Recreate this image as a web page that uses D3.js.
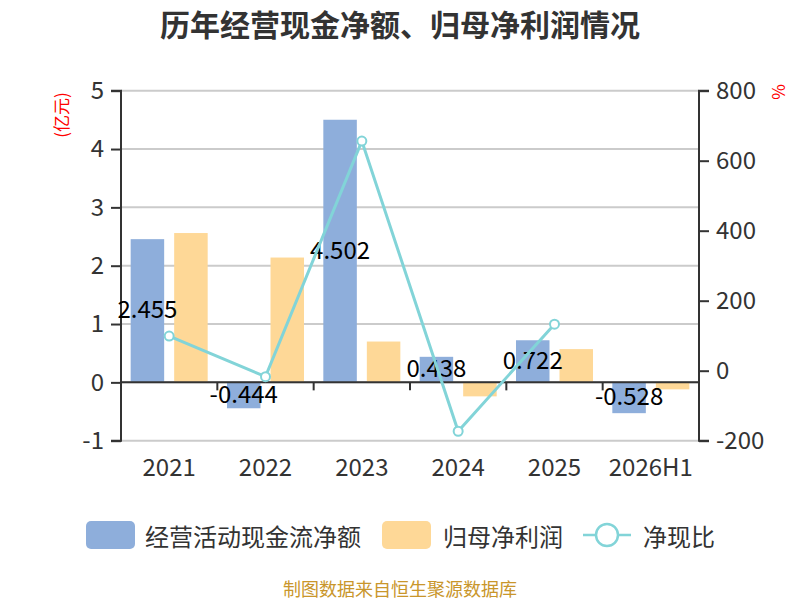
<!DOCTYPE html>
<html>
<head>
<meta charset="utf-8">
<script src="https://cdn.jsdelivr.net/npm/d3@7"></script>
<style>
  html, body { margin: 0; padding: 0; background: #fff; }
  svg { display: block; }
  text { font-family: "Noto Sans CJK SC", "Noto Sans", sans-serif; }
</style>
</head>
<body>
<svg id="chart" width="800" height="600"></svg>
<script>
// ---- data ----
const categories = ["2021", "2022", "2023", "2024", "2025", "2026H1"];
const cashFlow = [2.455, -0.444, 4.502, 0.438, 0.722, -0.528];   // 经营活动现金流净额 (亿元)
const netProfit = [2.56, 2.14, 0.70, -0.24, 0.57, -0.12];         // 归母净利润 (亿元)
const cashRatio = [99, -17, 656, -173, 133, null];                // 净现比 (%)
const leftTicks = [-1, 0, 1, 2, 3, 4, 5];
const rightTicks = [-200, 0, 200, 400, 600, 800];
const seriesNames = ["经营活动现金流净额", "归母净利润", "净现比"];
const titleText = "历年经营现金净额、归母净利润情况";
const footerText = "制图数据来自恒生聚源数据库";

// ---- styles ----
const C_BLUE = "#8eaedb", C_ORANGE = "#fed897", C_LINE = "#82d4d8";
const C_AXIS = "#333", C_GRID = "#cbcbcb", C_TEXT = "#333";

const svg = d3.select("#chart");
const L = 121, R = 699, T = 90.7, B = 440.7;

const x = d3.scaleBand().domain(categories).range([L, R]).padding(0);
const xi = d3.scaleBand().domain(["cf", "np"]).range([0, x.bandwidth()])
  .paddingInner(0.23).paddingOuter(0.222);
const yL = d3.scaleLinear().domain([-1, 5]).range([B, T]);
const yR = d3.scaleLinear().domain([-200, 800]).range([B, T]);

// title
svg.append("text").attr("x", 400).attr("y", 23).attr("text-anchor", "middle")
  .attr("dominant-baseline", "central").attr("font-size", 30).attr("font-weight", "bold")
  .attr("fill", C_TEXT).text(titleText);

// grid
svg.append("g").selectAll("line").data(leftTicks).join("line")
  .attr("x1", L).attr("x2", R).attr("y1", d => yL(d)).attr("y2", d => yL(d))
  .attr("stroke", C_GRID).attr("stroke-width", 2);

// bars
const groups = svg.append("g").selectAll("g").data(categories).join("g")
  .attr("transform", d => `translate(${x(d)},0)`);
groups.append("rect")
  .attr("x", xi("cf")).attr("width", xi.bandwidth())
  .attr("y", (d, i) => yL(Math.max(0, cashFlow[i])))
  .attr("height", (d, i) => Math.abs(yL(cashFlow[i]) - yL(0)))
  .attr("fill", C_BLUE);
groups.append("rect")
  .attr("x", xi("np")).attr("width", xi.bandwidth())
  .attr("y", (d, i) => yL(Math.max(0, netProfit[i])))
  .attr("height", (d, i) => Math.abs(yL(netProfit[i]) - yL(0)))
  .attr("fill", C_ORANGE);

// left axis
const axL = d3.axisLeft(yL).tickValues(leftTicks).tickSize(10).tickPadding(7).tickFormat(d => String(d));
const gL = svg.append("g").attr("transform", `translate(${L},0)`).call(axL);
gL.select(".domain").attr("stroke", C_AXIS).attr("stroke-width", 2).attr("d", `M-10,${B}H0V${T}H-10`);
gL.selectAll(".tick line").attr("stroke", C_AXIS).attr("stroke-width", 2);
gL.selectAll(".tick text").attr("font-size", 24).attr("fill", C_TEXT)
  .attr("font-family", '"Noto Sans CJK SC", "Noto Sans", sans-serif');

// right axis
const axR = d3.axisRight(yR).tickValues(rightTicks).tickSize(10).tickPadding(7).tickFormat(d => String(d));
const gR = svg.append("g").attr("transform", `translate(${R},0)`).call(axR);
gR.select(".domain").attr("stroke", C_AXIS).attr("stroke-width", 2).attr("d", `M10,${B}H0V${T}H10`);
gR.selectAll(".tick line").attr("stroke", C_AXIS).attr("stroke-width", 2);
gR.selectAll(".tick text").attr("font-size", 24).attr("fill", C_TEXT)
  .attr("font-family", '"Noto Sans CJK SC", "Noto Sans", sans-serif');

// x axis at zero
const y0 = yL(0);
svg.append("line").attr("x1", L).attr("x2", R).attr("y1", y0).attr("y2", y0)
  .attr("stroke", C_AXIS).attr("stroke-width", 2);
const boundaries = categories.map(c => x(c)).concat([x(categories[categories.length - 1]) + x.bandwidth()]);
svg.append("g").selectAll("line").data(boundaries).join("line")
  .attr("x1", d => d).attr("x2", d => d).attr("y1", y0).attr("y2", y0 + 8)
  .attr("stroke", C_AXIS).attr("stroke-width", 2);
svg.append("g").selectAll("text").data(categories).join("text")
  .attr("x", d => x(d) + x.bandwidth() / 2).attr("y", 465)
  .attr("text-anchor", "middle").attr("dominant-baseline", "central")
  .attr("font-size", 24).attr("fill", C_TEXT).text(d => d);

// unit labels
svg.append("text").attr("transform", "translate(60,115) rotate(-90)")
  .attr("text-anchor", "middle").attr("dominant-baseline", "central")
  .attr("font-size", 17).attr("fill", "#ff0000").text("(亿元)");
svg.append("text").attr("transform", "translate(777,92) rotate(-90)")
  .attr("text-anchor", "middle").attr("dominant-baseline", "central")
  .attr("font-size", 17).attr("fill", "#ff0000").text("%");

// bar value labels (cash flow)
svg.append("g").selectAll("text").data(categories).join("text")
  .attr("x", d => x(d) + xi("cf") + xi.bandwidth() / 2)
  .attr("y", (d, i) => (yL(cashFlow[i]) + yL(0)) / 2 - 3)
  .attr("text-anchor", "middle").attr("dominant-baseline", "central")
  .attr("font-size", 24).attr("fill", "#000")
  .text((d, i) => String(cashFlow[i]));

// ratio line
const lineData = categories.map((c, i) => ({ c, v: cashRatio[i] }));
const line = d3.line().defined(d => d.v != null)
  .x(d => x(d.c) + x.bandwidth() / 2).y(d => yR(d.v));
svg.append("path").datum(lineData).attr("d", line)
  .attr("fill", "none").attr("stroke", C_LINE).attr("stroke-width", 3);
svg.append("g").selectAll("circle").data(lineData.filter(d => d.v != null)).join("circle")
  .attr("cx", d => x(d.c) + x.bandwidth() / 2).attr("cy", d => yR(d.v)).attr("r", 4.5)
  .attr("fill", "#fff").attr("stroke", C_LINE).attr("stroke-width", 2);

// legend
const ly = 535;
const leg = svg.append("g");
leg.append("rect").attr("x", 86).attr("y", ly - 14).attr("width", 49).attr("height", 28).attr("rx", 5).attr("fill", C_BLUE);
leg.append("text").attr("x", 145).attr("y", ly).attr("dominant-baseline", "central")
  .attr("font-size", 24).attr("fill", C_TEXT).text(seriesNames[0]);
leg.append("rect").attr("x", 382).attr("y", ly - 14).attr("width", 49).attr("height", 28).attr("rx", 5).attr("fill", C_ORANGE);
leg.append("text").attr("x", 443).attr("y", ly).attr("dominant-baseline", "central")
  .attr("font-size", 24).attr("fill", C_TEXT).text(seriesNames[1]);
leg.append("line").attr("x1", 583).attr("x2", 631).attr("y1", ly).attr("y2", ly)
  .attr("stroke", C_LINE).attr("stroke-width", 2.5);
leg.append("circle").attr("cx", 607).attr("cy", ly).attr("r", 11)
  .attr("fill", "#fff").attr("stroke", C_LINE).attr("stroke-width", 2.5);
leg.append("text").attr("x", 643).attr("y", ly).attr("dominant-baseline", "central")
  .attr("font-size", 24).attr("fill", C_TEXT).text(seriesNames[2]);

// footer
svg.append("text").attr("x", 400).attr("y", 588).attr("text-anchor", "middle")
  .attr("dominant-baseline", "central").attr("font-size", 18).attr("fill", "#c9962b").text(footerText);
</script>
</body>
</html>
